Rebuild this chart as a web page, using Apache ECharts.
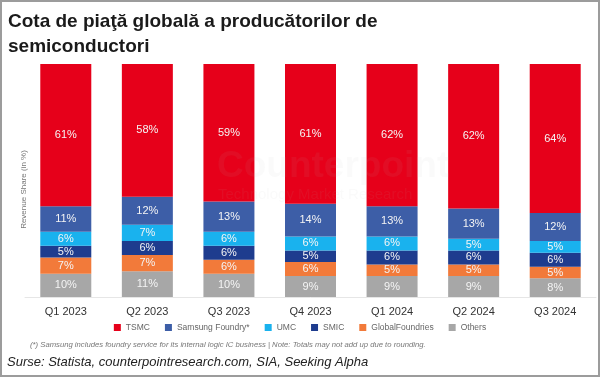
<!DOCTYPE html>
<html>
<head>
<meta charset="utf-8">
<script src="https://cdn.jsdelivr.net/npm/echarts@6/dist/echarts.min.js"></script>
<style>
  html, body { margin: 0; padding: 0; background: #fff; }
  #chart { width: 600px; height: 377px; }
</style>
</head>
<body>
<div id="chart"></div>
<script>
// Foundry market share by quarter (stacked, %)
const quarters = ['Q1 2023', 'Q2 2023', 'Q3 2023', 'Q4 2023', 'Q1 2024', 'Q2 2024', 'Q3 2024'];

const tsmc = [61, 58, 59, 61, 62, 62, 64];
const samsung = [11, 12, 13, 14, 13, 13, 12];
const umc = [6, 7, 6, 6, 6, 5, 5];
const smic = [5, 6, 6, 5, 6, 6, 6];
const globalFoundries = [7, 7, 6, 6, 5, 5, 5];
const others = [10, 11, 10, 9, 9, 9, 8];

const legendOrder = ['TSMC', 'Samsung Foundry*', 'UMC', 'SMIC', 'GlobalFoundries', 'Others'];

const chart = echarts.init(document.getElementById('chart'));

const font = 'Liberation Sans, Arial, sans-serif';

// stacked from the bottom up
const stackDefs = [
  { name: 'Others', data: others, color: '#a7a7a7' },
  { name: 'GlobalFoundries', data: globalFoundries, color: '#f27a3a' },
  { name: 'SMIC', data: smic, color: '#1e3c8e' },
  { name: 'UMC', data: umc, color: '#19b2ee' },
  { name: 'Samsung Foundry*', data: samsung, color: '#3d5ea7' },
  { name: 'TSMC', data: tsmc, color: '#e6001a' }
];

const option = {
  animation: false,
  textStyle: { fontFamily: font },
  title: {
    text: 'Cota de piaţă globală a producătorilor de\nsemiconductori',
    left: 8,
    top: 9,
    padding: 0,
    textStyle: {
      fontSize: 19,
      fontWeight: 'bold',
      color: '#1a1a1a',
      lineHeight: 25,
      fontFamily: font
    }
  },
  legend: {
    data: legendOrder,
    bottom: 40,
    left: 'center',
    itemWidth: 7,
    itemHeight: 7,
    itemGap: 15,
    icon: 'rect',
    textStyle: { fontSize: 8.5, color: '#666', fontFamily: font }
  },
  grid: { left: 25, right: 4, top: 64, bottom: 80 },
  xAxis: {
    type: 'category',
    data: quarters,
    axisLine: { lineStyle: { color: '#e6e6e6' } },
    axisTick: { show: false },
    axisLabel: { color: '#333', fontSize: 11, margin: 9 }
  },
  yAxis: {
    type: 'value',
    min: 0,
    max: 100,
    name: 'Revenue Share (in %)',
    nameLocation: 'middle',
    nameGap: -3,
    nameTextStyle: { fontSize: 8, color: '#777', padding: [0, 0, 0, -18] },
    axisLine: { show: false },
    axisTick: { show: false },
    axisLabel: { show: false },
    splitLine: { show: false }
  },
  graphic: [
    {
      type: 'text',
      left: 217,
      top: 148,
      z: 100,
      silent: true,
      style: {
        text: 'Counterpoint',
        fontSize: 37,
        fontWeight: 'bold',
        fontFamily: font,
        fill: 'rgba(190,190,190,0.07)'
      }
    },
    {
      type: 'text',
      left: 218,
      top: 187,
      z: 100,
      silent: true,
      style: {
        text: 'Technology Market Research',
        fontSize: 15,
        fontFamily: font,
        fill: 'rgba(190,190,190,0.07)'
      }
    },
    {
      type: 'text',
      left: 30,
      top: 341,
      silent: true,
      style: {
        text: '(*) Samsung includes foundry service for its internal logic IC business | Note: Totals may not add up due to rounding.',
        fontSize: 7.7,
        fontStyle: 'italic',
        fontFamily: font,
        fill: '#777'
      }
    },
    {
      type: 'text',
      left: 7,
      top: 356,
      silent: true,
      style: {
        text: 'Surse: Statista, counterpointresearch.com, SIA, Seeking Alpha',
        fontSize: 13,
        fontStyle: 'italic',
        fontFamily: font,
        fill: '#222'
      }
    },
    {
      type: 'rect',
      silent: true,
      z: 200,
      shape: { x: 1, y: 1, width: 598, height: 375 },
      style: { fill: 'none', stroke: '#9c9c9c', lineWidth: 2 }
    }
  ],
  series: stackDefs.map(s => ({
    name: s.name,
    type: 'bar',
    stack: 'share',
    data: s.data,
    barWidth: 51,
    itemStyle: { color: s.color },
    label: {
      show: true,
      position: 'inside',
      formatter: '{c}%',
      color: '#f4f4f4',
      fontSize: 11,
      fontFamily: font
    }
  }))
};

chart.setOption(option);
</script>
</body>
</html>
